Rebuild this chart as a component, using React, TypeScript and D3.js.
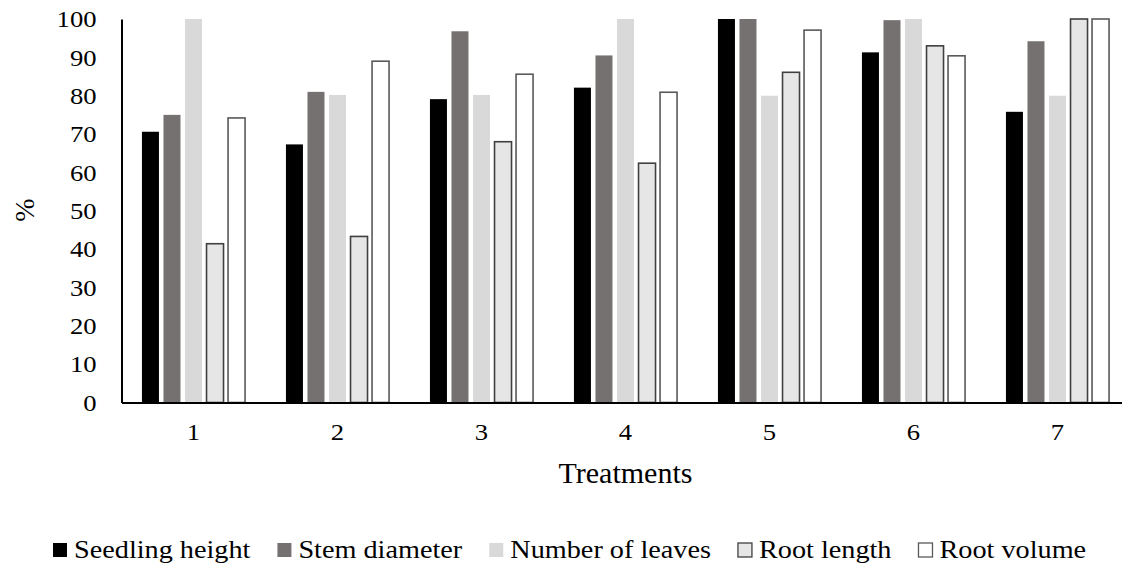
import React, { useEffect, useRef } from 'react';
import * as d3 from 'd3';

const treatments = ['1', '2', '3', '4', '5', '6', '7'];
const seriesNames = ['Seedling height', 'Stem diameter', 'Number of leaves', 'Root length', 'Root volume'];
const seedlingHeight = [70.6, 67.3, 79.1, 82.1, 100, 91.3, 75.8];
const stemDiameter = [75.0, 81.0, 96.8, 90.5, 100, 99.7, 94.2];
const numberOfLeaves = [100, 80.2, 80.2, 100, 80, 100, 80];
const rootLength = [41.4, 43.3, 68.0, 62.4, 86.1, 93.0, 100];
const rootVolume = [74.2, 89.0, 85.6, 80.9, 97.1, 90.4, 100];
const yTicks = [0, 10, 20, 30, 40, 50, 60, 70, 80, 90, 100];

const seriesValues = [seedlingHeight, stemDiameter, numberOfLeaves, rootLength, rootVolume];
const fills = ['#000000', '#767171', '#d9d9d9', '#e7e6e6', '#ffffff'];
const strokes = ['none', 'none', 'none', '#404040', '#595959'];

const App = () => {
    const svgRef = useRef<SVGSVGElement>(null);
    const width = 1122;
    const height = 565;
    const margin = { top: 19, left: 121.5, bottom: 402.5, right: 1129.5 };
    // the reference text is a little wider than Liberation Serif
    const stretch = 1.11;

    useEffect(() => {
        const svg = d3.select(svgRef.current);
        svg.selectAll('*').remove();
        const font = 'Liberation Serif, serif';

        const x0 = d3.scaleBand().domain(treatments).range([margin.left, margin.right]);
        const x1 = d3.scaleBand().domain(seriesNames).range([0, x0.bandwidth()])
            .paddingInner(0.21).paddingOuter(0.95);
        const y = d3.scaleLinear().domain([0, 100]).range([margin.bottom, margin.top]);

        // bars
        seriesNames.forEach((name, si) => {
            svg.append('g')
                .selectAll('rect')
                .data(seriesValues[si])
                .join('rect')
                .attr('x', (d, i) => x0(treatments[i]) + x1(name))
                .attr('y', d => y(d))
                .attr('width', x1.bandwidth())
                .attr('height', d => y(0) - y(d))
                .attr('fill', fills[si])
                .attr('stroke', strokes[si])
                .attr('stroke-width', 1.6);
        });

        // y axis
        const yAxis = svg.append('g')
            .attr('transform', `translate(${margin.left},0)`)
            .call(d3.axisLeft(y).tickValues(yTicks).tickSize(0).tickPadding(25));
        yAxis.select('.domain').attr('stroke', '#000').attr('stroke-width', 2);
        yAxis.selectAll('text')
            .attr('x', -25 / stretch)
            .attr('transform', `scale(${stretch},1)`)
            .style('font-family', font)
            .style('font-size', '24px')
            .attr('fill', '#000');

        // x axis
        const xAxis = svg.append('g')
            .attr('transform', `translate(0,${margin.bottom})`)
            .call(d3.axisBottom(x0).tickSize(0).tickPadding(20));
        xAxis.select('.domain').attr('stroke', '#000').attr('stroke-width', 2);
        xAxis.selectAll('text')
            .attr('transform', `scale(${stretch},1)`)
            .style('font-family', font)
            .style('font-size', '24px')
            .attr('fill', '#000');

        // axis titles
        svg.append('text')
            .attr('transform', 'translate(34,210) rotate(-90)')
            .attr('text-anchor', 'middle')
            .style('font-family', font)
            .style('font-size', '28px')
            .text('%');

        svg.append('text')
            .attr('x', (margin.left + margin.right) / 2)
            .attr('y', 483)
            .attr('text-anchor', 'middle')
            .style('font-family', font)
            .style('font-size', '30px')
            .text('Treatments');

        // legend
        const legend = svg.append('g');
        const legendStretch = 1.13;
        let lx = 53;
        seriesNames.forEach((name, si) => {
            legend.append('rect')
                .attr('x', lx)
                .attr('y', 543)
                .attr('width', 14)
                .attr('height', 14)
                .attr('fill', fills[si])
                .attr('stroke', si >= 3 ? strokes[si] : 'none')
                .attr('stroke-width', 1.3);
            const t = legend.append('text')
                .attr('transform', `translate(${lx + 21},558) scale(${legendStretch},1)`)
                .style('font-family', font)
                .style('font-size', '25px')
                .text(name);
            const w = (t.node() as SVGTextElement).getComputedTextLength() * legendStretch;
            lx += 21 + w + 27;
        });
    }, []);

    return (
        <svg ref={svgRef} width={width} height={height}
            style={{ position: 'absolute', left: 0, top: 0, background: '#fff' }} />
    );
};

export default App;
